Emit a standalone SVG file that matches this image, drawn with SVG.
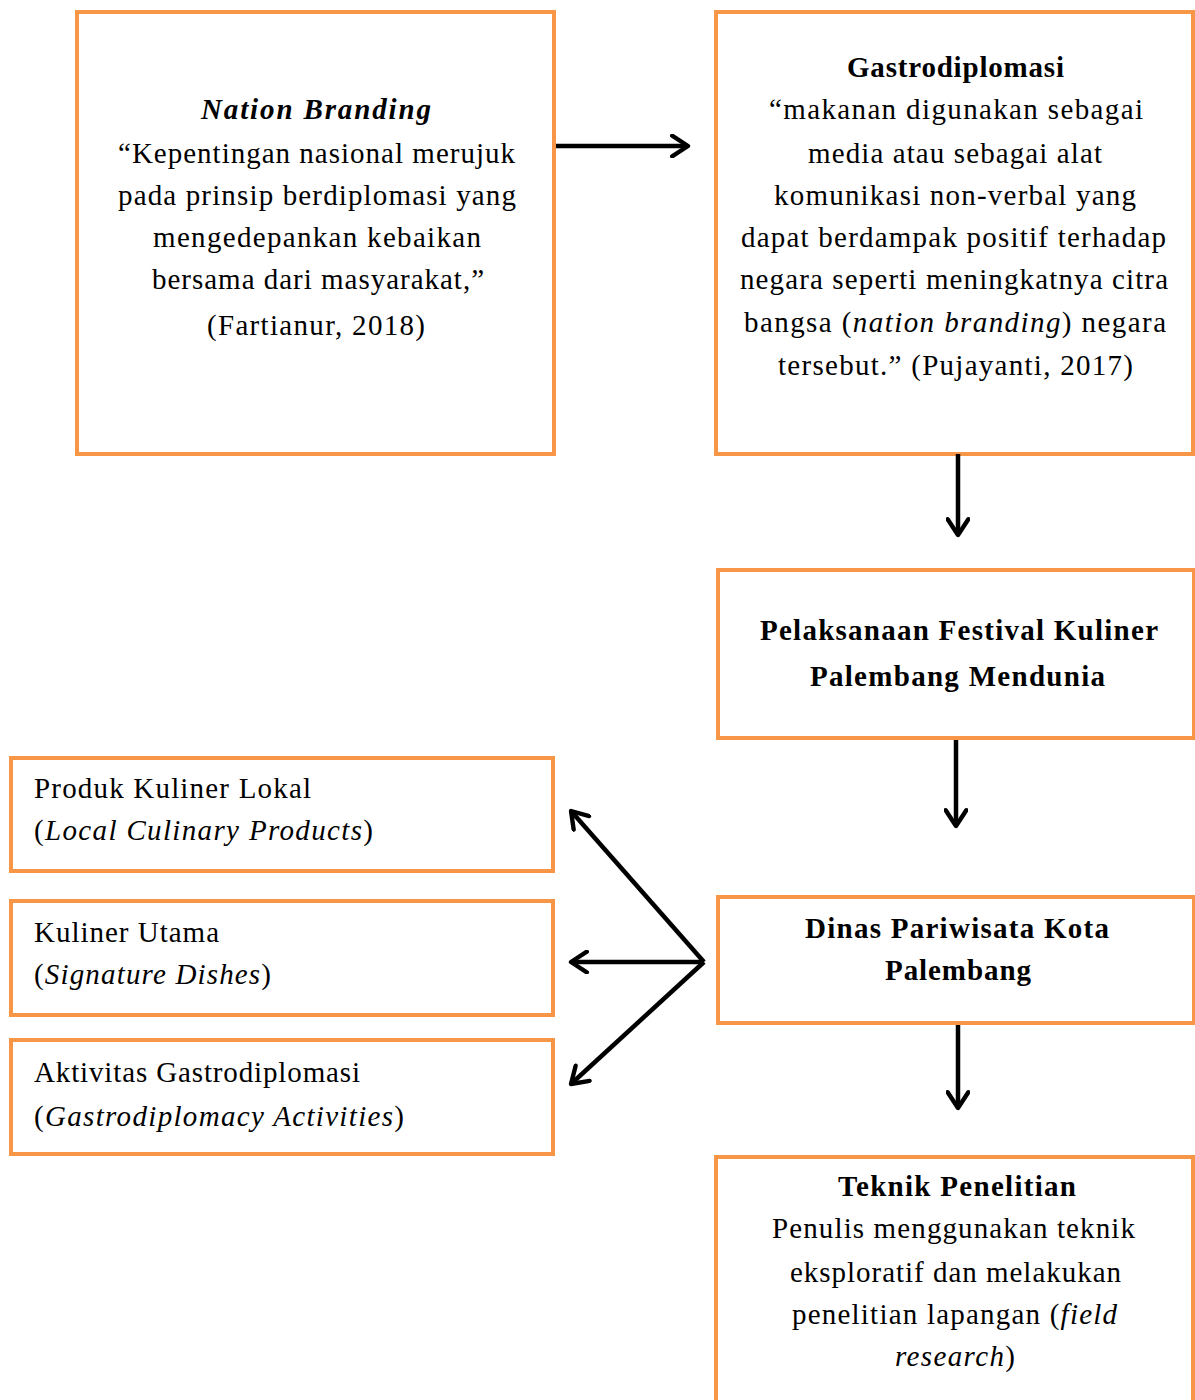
<svg xmlns="http://www.w3.org/2000/svg" width="1195" height="1400" viewBox="0 0 1195 1400">
<style>
.box{fill:#fff;stroke:#F79646;stroke-width:4}
text{font-family:"Liberation Serif","Times New Roman",serif;font-size:29px;fill:#000}
.b{font-weight:bold}
.i{font-style:italic}
.con{stroke:#000;stroke-width:4.5;fill:none;marker-end:url(#ah)}
</style>
<defs>
<marker id="ah" viewBox="0 0 20 20" refX="17" refY="10" markerWidth="5.4" markerHeight="5.4" markerUnits="strokeWidth" orient="auto">
<polyline points="4,1.5 17,10 4,18.5" fill="none" stroke="#000" stroke-width="3.6" stroke-linecap="round" stroke-linejoin="round"/>
</marker>
</defs>
<rect width="1195" height="1400" fill="#fff"/>
<g id="nation-branding">
<rect class="box" x="77" y="12" width="477" height="442"/>
<text class="b i" x="201" y="119" textLength="230" lengthAdjust="spacing">Nation Branding</text>
<text x="118" y="163" textLength="397" lengthAdjust="spacing">“Kepentingan nasional merujuk</text>
<text x="118" y="205" textLength="398" lengthAdjust="spacing">pada prinsip berdiplomasi yang</text>
<text x="153" y="247" textLength="328" lengthAdjust="spacing">mengedepankan kebaikan</text>
<text x="152" y="289" textLength="332" lengthAdjust="spacing">bersama dari masyarakat,”</text>
<text x="207" y="335" textLength="218" lengthAdjust="spacing">(Fartianur, 2018)</text>
</g>
<g id="gastrodiplomasi">
<rect class="box" x="716" y="12" width="477" height="442"/>
<text class="b" x="847" y="77" textLength="217" lengthAdjust="spacing">Gastrodiplomasi</text>
<text x="769" y="119" textLength="374" lengthAdjust="spacing">“makanan digunakan sebagai</text>
<text x="808" y="163" textLength="294" lengthAdjust="spacing">media atau sebagai alat</text>
<text x="774" y="205" textLength="362" lengthAdjust="spacing">komunikasi non-verbal yang</text>
<text x="741" y="247" textLength="425" lengthAdjust="spacing">dapat berdampak positif terhadap</text>
<text x="740" y="289" textLength="428" lengthAdjust="spacing">negara seperti meningkatnya citra</text>
<text x="744" y="332" textLength="422" lengthAdjust="spacing">bangsa (<tspan class="i">nation branding</tspan>) negara</text>
<text x="778" y="375" textLength="355" lengthAdjust="spacing">tersebut.” (Pujayanti, 2017)</text>
</g>
<g id="festival">
<rect class="box" x="718" y="570" width="476" height="168"/>
<text class="b" x="760" y="640" textLength="398" lengthAdjust="spacing">Pelaksanaan Festival Kuliner</text>
<text class="b" x="810" y="686" textLength="295" lengthAdjust="spacing">Palembang Mendunia</text>
</g>
<g id="dinas">
<rect class="box" x="718" y="897" width="476" height="126"/>
<text class="b" x="805" y="938" textLength="304" lengthAdjust="spacing">Dinas Pariwisata Kota</text>
<text class="b" x="885" y="980" textLength="146" lengthAdjust="spacing">Palembang</text>
</g>
<g id="teknik">
<rect class="box" x="716" y="1157" width="477" height="260"/>
<text class="b" x="838" y="1196" textLength="238" lengthAdjust="spacing">Teknik Penelitian</text>
<text x="772" y="1238" textLength="363" lengthAdjust="spacing">Penulis menggunakan teknik</text>
<text x="790" y="1282" textLength="331" lengthAdjust="spacing">eksploratif dan melakukan</text>
<text x="792" y="1324" textLength="325" lengthAdjust="spacing">penelitian lapangan (<tspan class="i">field</tspan></text>
<text x="895" y="1366" textLength="120" lengthAdjust="spacing"><tspan class="i">research</tspan>)</text>
</g>
<g id="produk">
<rect class="box" x="11" y="758" width="542" height="113"/>
<text x="34" y="798" textLength="277" lengthAdjust="spacing">Produk Kuliner Lokal</text>
<text x="34" y="840" textLength="339" lengthAdjust="spacing">(<tspan class="i">Local Culinary Products</tspan>)</text>
</g>
<g id="kuliner-utama">
<rect class="box" x="11" y="901" width="542" height="114"/>
<text x="34" y="942" textLength="185" lengthAdjust="spacing">Kuliner Utama</text>
<text x="34" y="984" textLength="237" lengthAdjust="spacing">(<tspan class="i">Signature Dishes</tspan>)</text>
</g>
<g id="aktivitas">
<rect class="box" x="11" y="1040" width="542" height="114"/>
<text x="34" y="1082" textLength="326" lengthAdjust="spacing">Aktivitas Gastrodiplomasi</text>
<text x="34" y="1126" textLength="370" lengthAdjust="spacing">(<tspan class="i">Gastrodiplomacy Activities</tspan>)</text>
</g>
<g id="connectors">
<line class="con" x1="556" y1="146" x2="688" y2="146"/>
<line class="con" x1="958" y1="454" x2="958" y2="535"/>
<line class="con" x1="956" y1="740" x2="956" y2="826"/>
<line class="con" x1="958" y1="1025" x2="958" y2="1108"/>
<line class="con" x1="704" y1="962" x2="571" y2="811"/>
<line class="con" x1="704" y1="962" x2="571" y2="962"/>
<line class="con" x1="704" y1="962" x2="571" y2="1084"/>
</g>
</svg>
